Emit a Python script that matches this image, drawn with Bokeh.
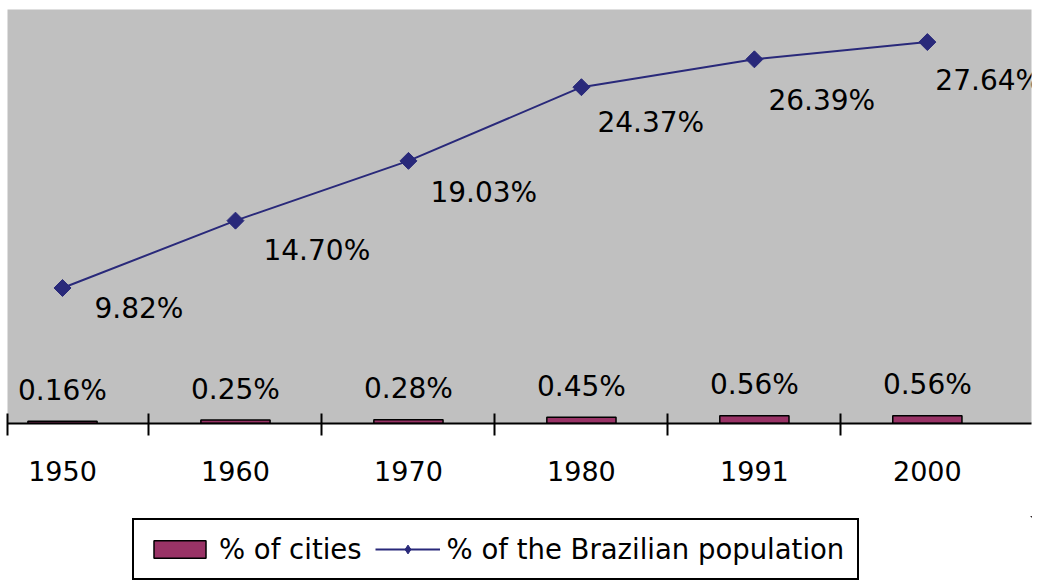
import math
from bokeh.plotting import figure
from bokeh.layouts import column
from bokeh.models import (Range1d, FixedTicker, LinearAxis, Legend, LegendItem,
                          ColumnDataSource)
from bokeh.core.properties import value
from bokeh.embed import file_html
from bokeh.resources import INLINE

# ---- data ----
years = ["1950", "1960", "1970", "1980", "1991", "2000"]
cities_pct = [0.16, 0.25, 0.28, 0.45, 0.56, 0.56]
population_pct = [9.82, 14.70, 19.03, 24.37, 26.39, 27.64]
series_names = ["% of cities", "% of the Brazilian population"]

# ---- styles ----
FONT = "DejaVu Sans"
NAVY = "#29297A"
PLUM = "#993366"
label_dx = [32, 28, 22, 16, 14, 8]
label_dy = [21, 30, 32, 35, 41, 38]

idx = list(range(len(years)))

p = figure(width=1038, height=516,
           x_range=Range1d(-0.318, 5.602), y_range=Range1d(0, 30),
           output_backend="svg", toolbar_location=None,
           x_axis_type=None, y_axis_type=None,
           min_border_left=7, min_border_right=7,
           min_border_top=9, min_border_bottom=93)
p.background_fill_color = "#C0C0C0"
p.border_fill_color = "white"
p.outline_line_color = None

xaxis = LinearAxis(
    ticker=FixedTicker(ticks=idx, minor_ticks=[-0.317, 0.5, 1.5, 2.5, 3.5, 4.5]),
    major_label_overrides={i: y for i, y in zip(idx, years)},
    major_tick_in=0, major_tick_out=0,
    minor_tick_in=10, minor_tick_out=12,
    minor_tick_line_width=2, minor_tick_line_color="black",
    axis_line_width=2, axis_line_color="black",
    major_label_text_font_size="27px", major_label_text_font=FONT,
    major_label_text_color="black",
    major_label_standoff=25)
p.add_layout(xaxis, "below")

bar_src = ColumnDataSource(dict(x=idx, top=cities_pct,
                                lab=[f"{v:.2f}%" for v in cities_pct]))
bar_kw = dict(fill_color=PLUM, line_color="black", line_width=1.5)
p.vbar(x="x", top="top", bottom=0, width=0.4, source=bar_src, **bar_kw)
p.text(x="x", y="top", text="lab", source=bar_src,
       text_align="center", text_baseline="alphabetic", y_offset=-31,
       text_font=value(FONT), text_font_size="28px", text_color="black")

line_src = ColumnDataSource(dict(x=idx, y=population_pct,
                                 lab=[f"{v:.2f}%" for v in population_pct],
                                 dx=label_dx, dy=label_dy))
line_kw = dict(line_color=NAVY, line_width=2)
p.line(x="x", y="y", source=line_src, **line_kw)
p.scatter(x="x", y="y", source=line_src, marker="square", size=12,
          angle=math.pi / 4, fill_color=NAVY, line_color=NAVY)
p.text(x="x", y="y", text="lab", source=line_src,
       x_offset="dx", y_offset="dy",
       text_align="left", text_baseline="middle",
       text_font=value(FONT), text_font_size="28px", text_color="black")

# ---- legend strip (same series, ranges chosen so nothing shows in it) ----
p2 = figure(width=1038, height=64, x_range=Range1d(-100, -99),
            y_range=Range1d(-100, -99),
            output_backend="svg", toolbar_location=None,
            x_axis_type=None, y_axis_type=None,
            min_border_left=0, min_border_right=0,
            min_border_top=0, min_border_bottom=0)
p2.outline_line_color = None
p2.background_fill_color = "white"
lb = p2.vbar(x="x", top="top", bottom=0, width=0.4, source=bar_src, **bar_kw)
ll = p2.line(x="x", y="y", source=line_src, **line_kw)
lp = p2.scatter(x="x", y="y", source=line_src, marker="diamond", size=14,
                fill_color=NAVY, line_color=NAVY)

legend = Legend(items=[LegendItem(label=series_names[0], renderers=[lb]),
                       LegendItem(label=series_names[1], renderers=[ll, lp])],
                location=(125, 0), orientation="horizontal",
                glyph_width=65, glyph_height=22, label_standoff=7,
                spacing=13, padding=13, margin=0,
                border_line_color="black", border_line_width=2,
                border_line_alpha=1,
                label_text_font=FONT, label_text_font_size="27.5px",
                label_text_color="black",
                background_fill_color="white", background_fill_alpha=1)
p2.add_layout(legend, "center")

open("out.html", "w").write(file_html(column(p, p2, spacing=0), INLINE))
